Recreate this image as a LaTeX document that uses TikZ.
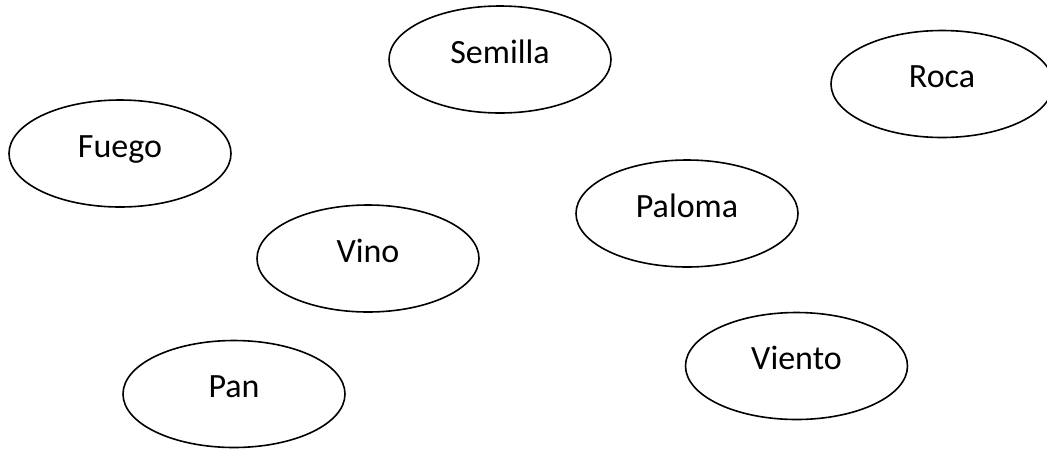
\documentclass[tikz,border=0pt]{standalone}
\usepackage{fontspec}
\setmainfont{Carlito}
\usetikzlibrary{shapes.geometric}

\begin{document}
\begin{tikzpicture}[
    x=1pt,
    y=-1pt,
    every node/.style={font=\fontsize{34}{40}\selectfont},
    concept/.style={
        ellipse,
        draw,
        line width=1.6pt,
        minimum width=222pt,
        minimum height=107pt,
        inner sep=0pt,
        text height=7.5pt,
        text depth=0pt
    }
]

% Page frame
\useasboundingbox (0, 0) rectangle (1047, 448);

% Words
\node[concept] (semilla) at (500, 59.5) {Semilla};
\node[concept] (roca) at (942, 84) {Roca};
\node[concept] (fuego) at (120, 153.5) {Fuego};
\node[concept] (paloma) at (687, 213.5) {Paloma};
\node[concept] (vino) at (368, 258.5) {Vino};
\node[concept] (viento) at (796.5, 366) {Viento};
\node[concept] (pan) at (234, 394) {Pan};

\end{tikzpicture}
\end{document}
